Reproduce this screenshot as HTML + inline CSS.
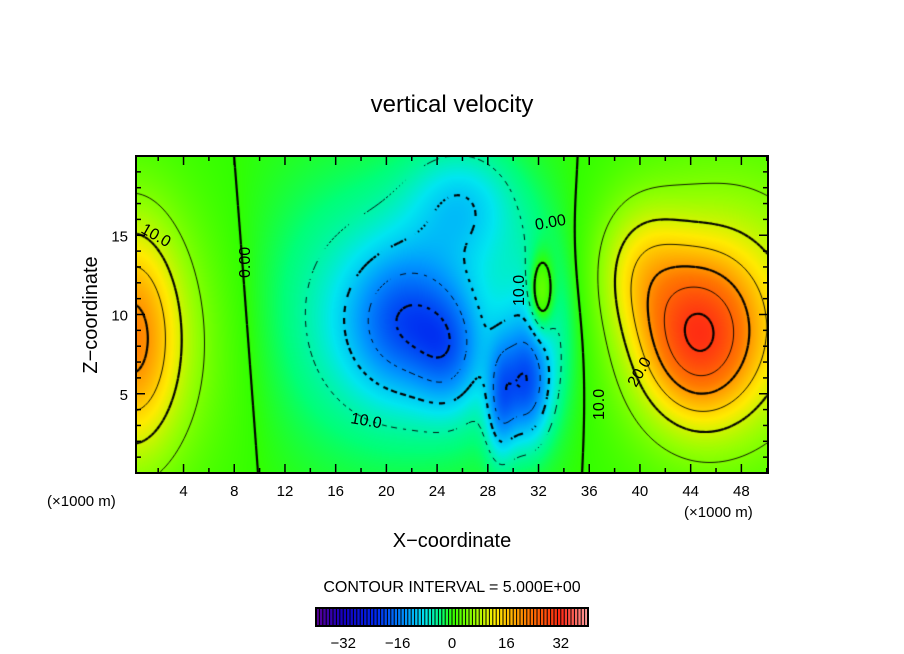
<!DOCTYPE html>
<html><head><meta charset="utf-8">
<style>
body{margin:0;background:#fff;width:904px;height:654px;overflow:hidden;font-family:"Liberation Sans",sans-serif;}
#wrap{position:relative;width:904px;height:654px;}
canvas{position:absolute;left:0;top:0;}
svg{position:absolute;left:0;top:0;}
</style></head><body>
<div id="wrap">
<canvas id="cv" width="904" height="654"></canvas>
<svg id="sv" width="904" height="654"></svg>
</div>
<script>
// ---- data ----
const gaussAmp = [14, 8, 20, 12, 8, -8, -12, -8, -14, -10, 10, -5, -7];
const gaussX   = [0, 0, 44.5, 47, 40, 21, 21.5, 25, 31, 29, 32.2, 32, 26];
const gaussZ   = [8.5, 8.5, 8.5, 10, 13, 10, 9.5, 7.5, 5.5, 4.5, 11.2, 9, 17];
const gaussSX  = [2.5, 6, 3.2, 6, 2.5, 8, 3, 1.8, 1.3, 0.8, 0.7, 2, 3];
const gaussSZ  = [5, 6, 3.5, 6, 3, 6, 3, 2.5, 2.5, 2.5, 1.8, 4, 2.5];
const xTicks = [4, 8, 12, 16, 20, 24, 28, 32, 36, 40, 44, 48];
const zTicks = [5, 10, 15];
const cbTicks = [-32, -16, 0, 16, 32];
const levels = [-30,-25,-20,-15,-10,-5,0,5,10,15,20,25,30];

const X0=136,X1=768,Y0=156,Y1=473;
const xMin=0.25,xMax=50.1,zMin=0,zMax=20;
const sx=x=>X0+(x-xMin)/(xMax-xMin)*(X1-X0);
const sz=z=>Y1-(z-zMin)/(zMax-zMin)*(Y1-Y0);
const ix=px=>xMin+(px-X0)/(X1-X0)*(xMax-xMin);
const iz=py=>zMin+(Y1-py)/(Y1-Y0)*(zMax-zMin);
function field(x,z){let v=0;for(let i=0;i<gaussAmp.length;i++){const dx=(x-gaussX[i])/gaussSX[i],dz=(z-gaussZ[i])/gaussSZ[i];v+=gaussAmp[i]*Math.exp(-0.5*(dx*dx+dz*dz));}return v;}
const stops=[[0,[90,0,150]],[0.1,[20,0,190]],[0.22,[0,40,240]],[0.33,[0,150,255]],[0.4,[0,230,240]],[0.46,[0,255,120]],[0.5,[50,255,0]],[0.58,[150,255,0]],[0.66,[255,235,0]],[0.78,[255,120,0]],[0.9,[255,40,20]],[1,[255,160,160]]];
function cmap(v){let t=Math.max(0,Math.min(1,(v+40)/80));for(let i=1;i<stops.length;i++){if(t<=stops[i][0]){const a=stops[i-1],b=stops[i],f=(t-a[0])/(b[0]-a[0]);return a[1].map((c,k)=>Math.round(c+(b[1][k]-c)*f));}}return stops[stops.length-1][1];}
const cv=document.getElementById('cv'),ctx=cv.getContext('2d');
const img=ctx.createImageData(X1-X0,Y1-Y0);
for(let py=0;py<Y1-Y0;py++)for(let px=0;px<X1-X0;px++){const c=cmap(field(ix(X0+px+0.5),iz(Y0+py+0.5)));const o=(py*(X1-X0)+px)*4;img.data[o]=c[0];img.data[o+1]=c[1];img.data[o+2]=c[2];img.data[o+3]=255;}
ctx.putImageData(img,X0,Y0);
// contours (marching squares)
const st=3,nx=Math.ceil((X1-X0)/st),ny=Math.ceil((Y1-Y0)/st);
const G=[];for(let j=0;j<=ny;j++){G[j]=[];for(let i=0;i<=nx;i++)G[j][i]=field(ix(Math.min(X1,X0+i*st)),iz(Math.min(Y1,Y0+j*st)));}
ctx.save();ctx.beginPath();ctx.rect(X0,Y0,X1-X0,Y1-Y0);ctx.clip();
levels.forEach(L=>{
  ctx.strokeStyle='#000';ctx.lineWidth=(L%10===0)?2.2:0.9;
  for(let j=0;j<ny;j++)for(let i=0;i<nx;i++){
    const px=X0+i*st,py=Y0+j*st;
    const c=[[px,py,G[j][i]],[px+st,py,G[j][i+1]],[px+st,py+st,G[j+1][i+1]],[px,py+st,G[j+1][i]]];
    const pts=[];
    for(let k=0;k<4;k++){const a=c[k],b=c[(k+1)%4];if((a[2]-L)*(b[2]-L)<0){const f=(L-a[2])/(b[2]-a[2]);pts.push([a[0]+(b[0]-a[0])*f,a[1]+(b[1]-a[1])*f]);}}
    if(pts.length>=2){
      if(L<0&&Math.floor((px+py)/6)%2===1)continue;
      ctx.beginPath();ctx.moveTo(pts[0][0],pts[0][1]);ctx.lineTo(pts[1][0],pts[1][1]);
      if(pts.length===4){ctx.moveTo(pts[2][0],pts[2][1]);ctx.lineTo(pts[3][0],pts[3][1]);}
      ctx.stroke();}
  }});
ctx.restore();
// svg overlay
const NS='http://www.w3.org/2000/svg',sv=document.getElementById('sv');
function el(t,a,txt){const e=document.createElementNS(NS,t);for(const k in a)e.setAttribute(k,a[k]);if(txt!==undefined)e.textContent=txt;sv.appendChild(e);return e;}
let e;
e=el('rect',{x:X0,y:Y0,width:X1-X0,height:Y1-Y0,fill:'none',stroke:'#000','stroke-width':2});


for(let v=2;v<=50;v+=2){const x=sx(v);const len=v%4===0?9:5;
  e=el('line',{x1:x,y1:Y1,x2:x,y2:Y1-len,stroke:'#000','stroke-width':1.5});
  
  
  e=el('line',{x1:x,y1:Y0,x2:x,y2:Y0+len,stroke:'#000','stroke-width':1.5});
  
  }
for(let v=1;v<20;v++){const y=sz(v);const len=v%5===0?9:5;
  e=el('line',{x1:X0,y1:y,x2:X0+len,y2:y,stroke:'#000','stroke-width':1.5});
  
  
  e=el('line',{x1:X1,y1:y,x2:X1-len,y2:y,stroke:'#000','stroke-width':1.5});
  
  }
xTicks.forEach(v=>{e=el('text',{x:sx(v),y:496,'font-size':15,'text-anchor':'middle'},String(v));
  
  });
zTicks.forEach(v=>{e=el('text',{x:128,y:sz(v)+6,'font-size':15,'text-anchor':'end'},String(v));
  
  });
e=el('text',{x:452,y:112,'font-size':24,'text-anchor':'middle'},'vertical velocity');


e=el('text',{x:452,y:547,'font-size':20,'text-anchor':'middle'},'X\u2212coordinate');


e=el('text',{x:0,y:0,'font-size':20,'text-anchor':'middle',transform:'translate(97,315) rotate(-90)'},'Z\u2212coordinate');


e=el('text',{x:47,y:506,'font-size':15},'(\u00d71000 m)');


e=el('text',{x:684,y:517,'font-size':15},'(\u00d71000 m)');


e=el('text',{x:452,y:592,'font-size':16,'text-anchor':'middle'},'CONTOUR INTERVAL = 5.000E+00');


// contour labels
const lab=[[140,232,30,'10.0'],[250,278,-90,'0.00'],[536,230,-10,'0.00'],[350,423,10,'10.0'],[524,306,-90,'10.0'],[604,420,-90,'10.0'],[636,388,-60,'20.0']];
lab.forEach(l=>{e=el('text',{x:l[0],y:l[1],'font-size':16,transform:`rotate(${l[2]} ${l[0]} ${l[1]})`},l[3]);
  
  });
// colorbar
const CB0=316,CB1=588,CBy=608,CBh=18,nb=80;
for(let k=0;k<nb;k++){const v=-40+(k+0.5)*80/nb;const c=cmap(v);const w=(CB1-CB0)/nb;
  e=el('rect',{x:CB0+k*w,y:CBy,width:w,height:CBh,fill:`rgb(${c})`});
  
  
  e=el('line',{x1:CB0+k*w,y1:CBy,x2:CB0+k*w,y2:CBy+CBh,stroke:'#000','stroke-width':1});
  
  }
e=el('rect',{x:CB0,y:CBy,width:CB1-CB0,height:CBh,fill:'none',stroke:'#000','stroke-width':2});


cbTicks.forEach(v=>{e=el('text',{x:CB0+(v+40)/80*(CB1-CB0),y:648,'font-size':15,'text-anchor':'middle'},(v<0?'\u2212'+(-v):String(v)));
  
  });
</script>
</body></html>
